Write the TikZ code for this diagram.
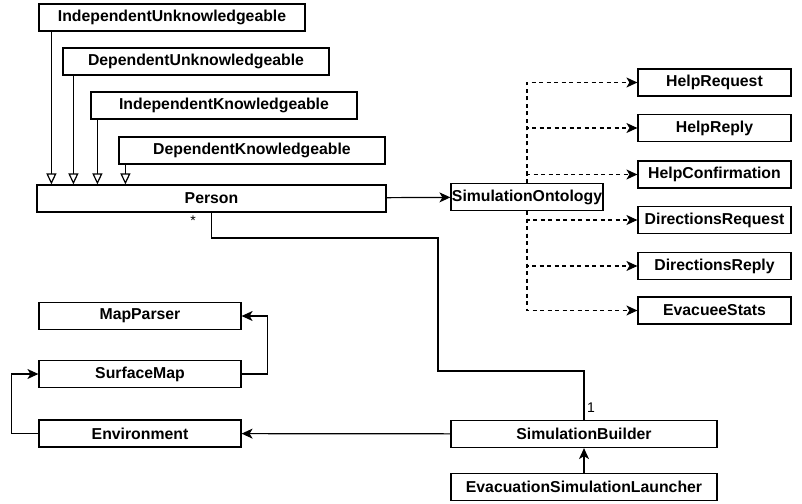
\documentclass[tikz,border=0pt]{standalone}
\usepackage{fontspec}
\setmainfont{Liberation Sans}
\usetikzlibrary{arrows.meta}

\begin{document}
\begin{tikzpicture}[x=1pt,y=-1pt,
	cls/.style={shape=rectangle,draw=black,line width=1.2pt,inner sep=0pt,minimum height=27pt,font=\fontsize{15.8}{19}\selectfont\bfseries},
	gen/.style={line width=1.2pt,-{Triangle[open,length=11pt,width=10pt]}},
	uses/.style={line width=1.2pt,-{Stealth[length=11pt,width=10pt,inset=3pt]}},
	dep/.style={uses,dash pattern=on 4pt off 3.5pt},
	mult/.style={font=\fontsize{14}{16}\selectfont}]
	
	\useasboundingbox (0,0) rectangle (802,503);
	
	\node[cls,minimum width=266pt] (iu) at (172, 17.5)   {IndependentUnknowledgeable};
	\node[cls,minimum width=266pt] (du) at (196, 61.5)   {DependentUnknowledgeable};
	\node[cls,minimum width=266pt] (ik) at (224, 105.5)  {IndependentKnowledgeable};
	\node[cls,minimum width=266pt] (dk) at (252, 150.5)  {DependentKnowledgeable};
	\node[cls,minimum width=349pt] (person) at (211.5, 198.5) {Person};
	\node[cls,minimum width=152pt] (onto) at (527, 197)  {SimulationOntology};
	\node[cls,minimum width=153pt] (hreq) at (714.5, 82.5)  {HelpRequest};
	\node[cls,minimum width=153pt] (hrep) at (714.5, 128)   {HelpReply};
	\node[cls,minimum width=153pt] (hconf) at (714.5, 174.5) {HelpConfirmation};
	\node[cls,minimum width=153pt] (dreq) at (714.5, 220)   {DirectionsRequest};
	\node[cls,minimum width=153pt] (drep) at (714.5, 266)   {DirectionsReply};
	\node[cls,minimum width=153pt] (stats) at (714.5, 310.5) {EvacueeStats};
	\node[cls,minimum width=202pt] (parser) at (140, 316)   {MapParser};
	\node[cls,minimum width=202pt] (surface) at (140, 374)  {SurfaceMap};
	\node[cls,minimum width=202pt] (env) at (140, 433.5)    {Environment};
	\node[cls,minimum width=266pt] (builder) at (584, 434)  {SimulationBuilder};
	\node[cls,minimum width=266pt] (launcher) at (584, 487) {EvacuationSimulationLauncher};
	
	\node[mult] (many) at (193, 221) {*};
	\node[mult] (one) at (591, 408) {1};
	
	\draw[gen] ([xshift=13pt]iu.south west) -- ([xshift=13pt]iu.south west |- person.north);
	\draw[gen] ([xshift=11pt]du.south west) -- ([xshift=11pt]du.south west |- person.north);
	\draw[gen] ([xshift=7pt]ik.south west) -- ([xshift=7pt]ik.south west |- person.north);
	\draw[gen] ([xshift=7pt]dk.south west) -- ([xshift=7pt]dk.south west |- person.north);
	
	\path[uses] (person) edge (onto);
	\draw[dep] (onto) |- (hreq);
	\draw[dep] (onto) |- (hrep);
	\draw[dep] (onto) |- (hconf);
	\draw[dep] (onto) |- (dreq);
	\draw[dep] (onto) |- (drep);
	\draw[dep] (onto) |- (stats);
	
	\draw[line width=1.2pt] (person.south) |- (438, 238) -- (438, 371) -| (builder.north);
	\path[uses] (launcher) edge (builder);
	\path[uses] (builder) edge (env);
	\draw[uses] (env.west) -- ++(-27, 0) |- (surface.west);
	\draw[uses] (surface.east) -- ++(26, 0) |- (parser.east);
\end{tikzpicture}
\end{document}
